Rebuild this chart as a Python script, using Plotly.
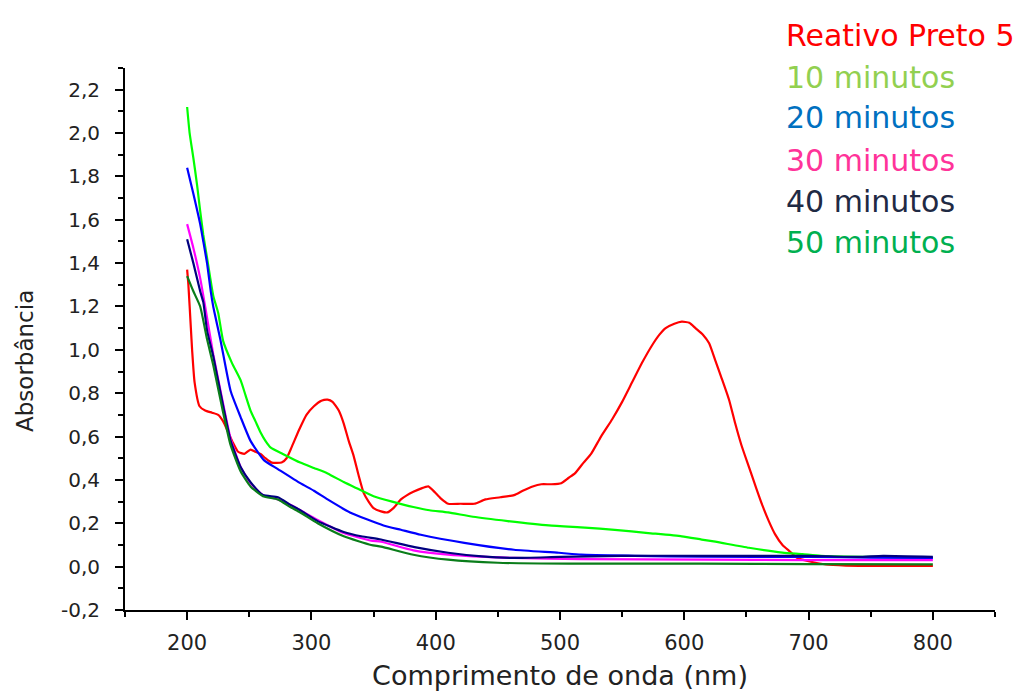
import plotly.graph_objects as go

# UV-Vis spectra: Reactive Black 5 dye and samples after treatment times
wl_dye = [200, 201, 203, 204, 206, 210, 214.5, 220, 225, 229, 233, 237, 241, 246, 251, 255,
          259, 263, 268, 276, 280, 284, 290, 296, 302, 308, 313, 317, 322, 326, 330, 334,
          338, 342, 346, 350, 356, 361, 366, 372, 377, 382, 388, 394, 399, 404, 410, 420,
          431, 440, 452, 463, 470, 478, 485, 493, 501, 507, 512, 519, 525, 533, 542, 550,
          558, 566, 574, 580, 585, 592, 598, 604, 609, 615, 620, 625, 630, 636, 641, 646,
          652, 658, 663, 668, 673, 679, 685, 691, 700, 714, 730, 750, 800]
abs_dye = [1.37, 1.30, 1.10, 1.00, 0.85, 0.74, 0.72, 0.71, 0.70, 0.67, 0.62, 0.57, 0.53, 0.52,
           0.54, 0.53, 0.52, 0.50, 0.48, 0.48, 0.50, 0.55, 0.63, 0.70, 0.74, 0.765, 0.77, 0.76,
           0.72, 0.66, 0.58, 0.51, 0.42, 0.34, 0.30, 0.27, 0.255, 0.25, 0.27, 0.31, 0.33,
           0.345, 0.36, 0.37, 0.345, 0.315, 0.29, 0.29, 0.29, 0.31, 0.32, 0.33, 0.35, 0.37,
           0.38, 0.38, 0.385, 0.41, 0.43, 0.48, 0.52, 0.60, 0.68, 0.76, 0.85, 0.94, 1.02,
           1.07, 1.10, 1.12, 1.13, 1.125, 1.10, 1.07, 1.03, 0.95, 0.87, 0.77, 0.66, 0.56,
           0.46, 0.36, 0.28, 0.21, 0.15, 0.10, 0.07, 0.04, 0.025, 0.01, 0.005, 0.003, 0.003]

wl_10 = [200, 202, 205, 208, 210.5, 213, 216, 221, 225, 229, 236, 243, 247, 251, 255, 259,
         263, 267, 277, 291, 302, 313, 326, 337, 350, 365, 382, 395, 410, 430, 458, 491,
         520, 544, 571, 598, 614, 625, 652, 679, 695, 710, 750, 800]
abs_10 = [2.12, 2.00, 1.885, 1.76, 1.64, 1.53, 1.425, 1.25, 1.17, 1.04, 0.94, 0.86, 0.79,
          0.72, 0.67, 0.62, 0.58, 0.55, 0.52, 0.48, 0.455, 0.43, 0.39, 0.36, 0.325, 0.30,
          0.275, 0.26, 0.25, 0.23, 0.21, 0.19, 0.18, 0.17, 0.155, 0.14, 0.125, 0.115,
          0.087, 0.065, 0.058, 0.05, 0.045, 0.04]

wl_20 = [200, 205, 210.5, 213, 216, 219, 221, 227, 235, 243, 251, 262, 273, 291, 302, 313,
         331, 358, 372, 388, 423, 463, 499, 517, 560, 614, 700, 750, 800]
abs_20 = [1.84, 1.72, 1.58, 1.50, 1.40, 1.27, 1.20, 1.04, 0.81, 0.69, 0.58, 0.49, 0.45,
          0.385, 0.35, 0.31, 0.25, 0.19, 0.17, 0.147, 0.11, 0.078, 0.064, 0.055, 0.05,
          0.046, 0.045, 0.042, 0.04]

wl_30 = [200, 205, 210.5, 214.5, 221, 229, 235, 243, 251, 261, 273, 283, 291, 305, 326,
         348, 356, 382, 410, 463, 517, 614, 700, 800]
abs_30 = [1.58, 1.47, 1.33, 1.20, 0.98, 0.75, 0.59, 0.46, 0.385, 0.33, 0.31, 0.285, 0.26,
          0.215, 0.155, 0.12, 0.115, 0.075, 0.055, 0.04, 0.035, 0.032, 0.03, 0.03]

wl_40 = [200, 205, 210.5, 213, 216, 221, 229, 235, 243, 251, 261, 273, 283, 291, 305, 326,
         340, 356, 383, 410, 437, 463, 500, 550, 614, 660, 700, 740, 760, 800]
abs_40 = [1.51, 1.40, 1.27, 1.22, 1.09, 0.97, 0.74, 0.58, 0.46, 0.39, 0.33, 0.32, 0.285,
          0.26, 0.21, 0.16, 0.14, 0.125, 0.09, 0.064, 0.047, 0.04, 0.045, 0.05, 0.05, 0.05,
          0.05, 0.045, 0.05, 0.045]

wl_50 = [200, 205, 210.5, 216, 221, 229, 235, 243, 251, 261, 273, 283, 291, 305, 326, 348,
         356, 382, 410, 450, 507, 614, 700, 800]
abs_50 = [1.34, 1.27, 1.20, 1.05, 0.93, 0.71, 0.56, 0.44, 0.37, 0.325, 0.31, 0.275, 0.25,
          0.20, 0.14, 0.10, 0.092, 0.055, 0.032, 0.018, 0.014, 0.014, 0.012, 0.01]

series_names = ["Reativo Preto 5", "10 minutos", "20 minutos", "30 minutos",
                "40 minutos", "50 minutos"]
line_colors = ["#ff0000", "#00ff00", "#0000ff", "#ff00ff", "#000080", "#0a7d1a"]
label_colors = ["#ff0000", "#92d050", "#0070c0", "#ff3399", "#1f2a44", "#00b050"]

x_ticks = [200, 300, 400, 500, 600, 700, 800]
y_ticks = [-0.2, 0.0, 0.2, 0.4, 0.6, 0.8, 1.0, 1.2, 1.4, 1.6, 1.8, 2.0, 2.2]
y_tick_labels = ["-0,2", "0,0", "0,2", "0,4", "0,6", "0,8", "1,0", "1,2", "1,4",
                 "1,6", "1,8", "2,0", "2,2"]

spectra = [(wl_dye, abs_dye), (wl_10, abs_10), (wl_20, abs_20),
           (wl_30, abs_30), (wl_40, abs_40), (wl_50, abs_50)]

FONT = "DejaVu Sans"
TEXT = "#222222"
W, H = 1022, 693
ML, MR, MT, MB = 125, 27, 68, 83
plot_h = H - MT - MB
plot_w = W - ML - MR

fig = go.Figure()
for (wl, ab), name, col in zip(spectra, series_names, line_colors):
    fig.add_trace(go.Scatter(x=wl, y=ab, mode="lines", name=name,
                             line=dict(color=col, width=2.2, shape="spline", smoothing=0.5)))

# colour-coded series labels stacked at the top right
label_mid_px = [35, 77, 118, 160, 201, 243]
for name, col, py in zip(series_names, label_colors, label_mid_px):
    fig.add_annotation(text=name, xref="paper", yref="paper",
                       x=(784 - ML) / plot_w, y=(H - MB - py) / plot_h,
                       xanchor="left", yanchor="middle", showarrow=False,
                       font=dict(family=FONT, size=30, color=col))

# y-axis title, sitting a little below the plot's vertical centre
fig.add_annotation(text="Absorbância", xref="paper", yref="paper",
                   x=(25 - ML) / plot_w, y=(H - MB - 361) / plot_h,
                   xanchor="center", yanchor="middle", textangle=-90, showarrow=False,
                   font=dict(family=FONT, size=23, color=TEXT))

axis_common = dict(showline=True, linecolor="black", linewidth=2, mirror=False,
                   showgrid=False, zeroline=False, ticks="outside", ticklen=8,
                   tickwidth=2, tickcolor="black")

fig.update_xaxes(range=[150, 850], tickvals=x_ticks,
                 tickfont=dict(family=FONT, size=21, color=TEXT),
                 ticklabelstandoff=5,
                 minor=dict(ticks="outside", ticklen=5, tickwidth=2, tickcolor="black",
                            dtick=50, tick0=150),
                 title=dict(text="Comprimento de onda (nm)",
                            font=dict(family=FONT, size=27, color=TEXT), standoff=12),
                 **axis_common)
fig.update_yaxes(range=[-0.2, 2.3], tickvals=y_ticks, ticktext=y_tick_labels,
                 tickfont=dict(family=FONT, size=20, color=TEXT),
                 ticklabelstandoff=11,
                 minor=dict(ticks="outside", ticklen=5, tickwidth=2, tickcolor="black",
                            dtick=0.1, tick0=0),
                 **axis_common)

fig.update_layout(width=W, height=H,
                  margin=dict(l=ML, r=MR, t=MT, b=MB, autoexpand=False),
                  paper_bgcolor="white", plot_bgcolor="white", showlegend=False)

fig.write_html("out.html")
